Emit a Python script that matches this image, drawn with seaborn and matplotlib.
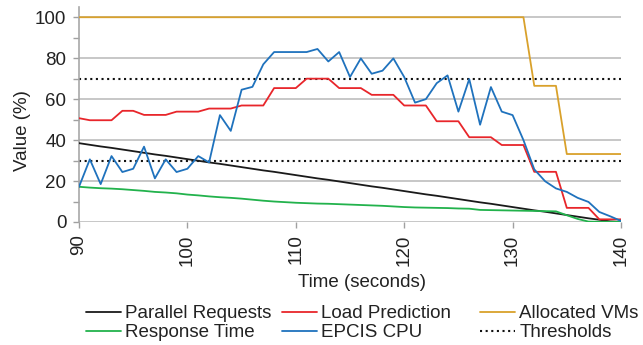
import numpy as np
import pandas as pd
import matplotlib
matplotlib.use("Agg")
import matplotlib.pyplot as plt
import seaborn as sns
from matplotlib.lines import Line2D

# ---------------- data ----------------
time = np.arange(90, 141)

parallel_requests = [38.5, 37.7, 36.9, 36.2, 35.4, 34.6, 33.8, 33.0, 32.3, 31.5,
                     30.7, 29.9, 29.1, 28.4, 27.6, 26.8, 26.0, 25.2, 24.5, 23.7,
                     22.9, 22.1, 21.3, 20.6, 19.8, 19.0, 18.2, 17.4, 16.7, 15.9,
                     15.1, 14.3, 13.5, 12.8, 12.0, 11.2, 10.4, 9.6, 8.9, 8.1,
                     7.3, 6.5, 5.7, 5.0, 4.2, 3.4, 2.6, 1.8, 1.1, 0.3, 0.0]

response_time = [17.2, 16.8, 16.5, 16.3, 16.0, 15.6, 15.2, 14.7, 14.4, 14.0,
                 13.4, 13.0, 12.5, 12.1, 11.8, 11.4, 10.9, 10.4, 10.0, 9.7,
                 9.4, 9.2, 9.0, 8.9, 8.7, 8.5, 8.3, 8.1, 7.9, 7.6,
                 7.3, 7.1, 7.0, 6.9, 6.8, 6.6, 6.5, 5.9, 5.8, 5.7,
                 5.6, 5.5, 5.4, 5.3, 5.2, 3.3, 1.5, 0.2, 0.1, 0.1, 0.1]

load_prediction = [50.7, 49.7, 49.7, 49.7, 54.3, 54.3, 52.3, 52.3, 52.3, 53.9,
                   53.9, 53.9, 55.4, 55.4, 55.4, 56.9, 56.9, 56.9, 65.4, 65.4,
                   65.4, 70.0, 70.0, 70.0, 65.4, 65.4, 65.4, 62.1, 62.1, 62.1,
                   56.9, 56.9, 56.9, 49.2, 49.2, 49.2, 41.4, 41.4, 41.4, 37.6,
                   37.6, 37.6, 24.5, 24.5, 24.5, 6.9, 6.9, 6.9, 1.3, 1.3, 1.3]

epcis_cpu = [17.2, 30.6, 18.5, 32.2, 24.4, 26.0, 36.8, 21.3, 30.6, 24.4,
             26.0, 32.2, 29.1, 52.2, 44.5, 64.6, 66.0, 77.0, 83.0, 83.0,
             83.0, 83.0, 84.5, 78.4, 83.0, 70.8, 79.9, 72.4, 73.9, 79.9,
             70.8, 58.3, 60.0, 67.8, 71.6, 53.9, 69.8, 47.5, 65.9, 53.9,
             52.2, 40.0, 25.7, 19.9, 16.4, 14.7, 11.8, 9.8, 4.9, 2.8, 0.5]

allocated_vms = [100] * 42 + [66.5] * 3 + [33.2] * 6

thresholds = [70, 30]

series_names = ["Parallel Requests", "Response Time", "Load Prediction",
                "EPCIS CPU", "Allocated VMs"]
series_values = [parallel_requests, response_time, load_prediction,
                 epcis_cpu, allocated_vms]
series_colors = ["#1a1a1a", "#22b24c", "#e8262b", "#1f72bd", "#d9a12b"]

x_ticks = [90, 100, 110, 120, 130, 140]
y_ticks = [0, 20, 40, 60, 80, 100]

# ---------------- style ----------------
sns.set_theme(style="white")
plt.rcParams["font.family"] = ["Liberation Sans", "DejaVu Sans"]
FS = 13.5
TXT = "#222222"
GRID = "#bdbdbd"
DOTS = (0, (1, 1.7))

fig = plt.figure(figsize=(6.43, 3.45), dpi=100)
ax = fig.add_axes([79 / 643, 1 - 222 / 345, 542 / 643, 215 / 345])

for yv in y_ticks:
    ax.axhline(yv, color=GRID, lw=1.2, zorder=0)

df = pd.DataFrame({"time": time})
for name, vals in zip(series_names, series_values):
    df[name] = vals

draw_order = ["Allocated VMs", "Parallel Requests", "Response Time",
              "Load Prediction", "EPCIS CPU"]
for name in draw_order:
    col = series_colors[series_names.index(name)]
    sns.lineplot(data=df, x="time", y=name, color=col, lw=1.3, ax=ax,
                 zorder=3)

for th in thresholds:
    ax.axhline(th, color="#111111", lw=1.5, ls=DOTS, zorder=2)

ax.set_xlim(90, 140)
ax.set_ylim(0, 105)
ax.set_xticks(x_ticks)
ax.set_xticklabels([str(v) for v in x_ticks], rotation=90, fontsize=FS, color=TXT)
ax.set_yticks(y_ticks)
ax.set_yticklabels([str(v) for v in y_ticks], fontsize=FS, color=TXT)
ax.set_yticks([10, 30, 50, 70, 90], minor=True)
ax.tick_params(axis="both", which="both", length=4, width=1.0, color="#a0a0a0",
               direction="out", bottom=True, left=True)
ax.tick_params(axis="y", which="both", pad=5)
ax.tick_params(axis="x", which="both", pad=5)

for s in ["top", "right", "bottom"]:
    ax.spines[s].set_visible(False)
ax.spines["left"].set_color("#a8a8a8")
ax.spines["left"].set_linewidth(1.2)
ax.grid(False)

ax.set_xlabel("Time (seconds)", fontsize=FS, color=TXT)
ax.set_ylabel("Value (%)", fontsize=FS, color=TXT)
ax.xaxis.set_label_coords((362 - 79) / 542, (222 - 274) / 215)
ax.yaxis.set_label_coords((31 - 79) / 542, (222 - 131) / 215)

# ---------------- legend (three columns) ----------------
handles = {name: Line2D([], [], color=col, lw=1.3)
           for name, col in zip(series_names, series_colors)}
handles["Thresholds"] = Line2D([], [], color="#111111", lw=1.5, ls=DOTS)

columns = [["Parallel Requests", "Response Time"],
           ["Load Prediction", "EPCIS CPU"],
           ["Allocated VMs", "Thresholds"]]
col_x = [86, 282, 480]
for names, xpx in zip(columns, col_x):
    fig.legend([handles[n] for n in names], names, loc="upper left",
               bbox_to_anchor=(xpx / 643, 1 - 305 / 345), frameon=False,
               fontsize=FS, borderpad=0, borderaxespad=0, handlelength=1.85,
               handletextpad=0.25, labelspacing=0.1, labelcolor=TXT)

fig.savefig("out.png", dpi=100)
